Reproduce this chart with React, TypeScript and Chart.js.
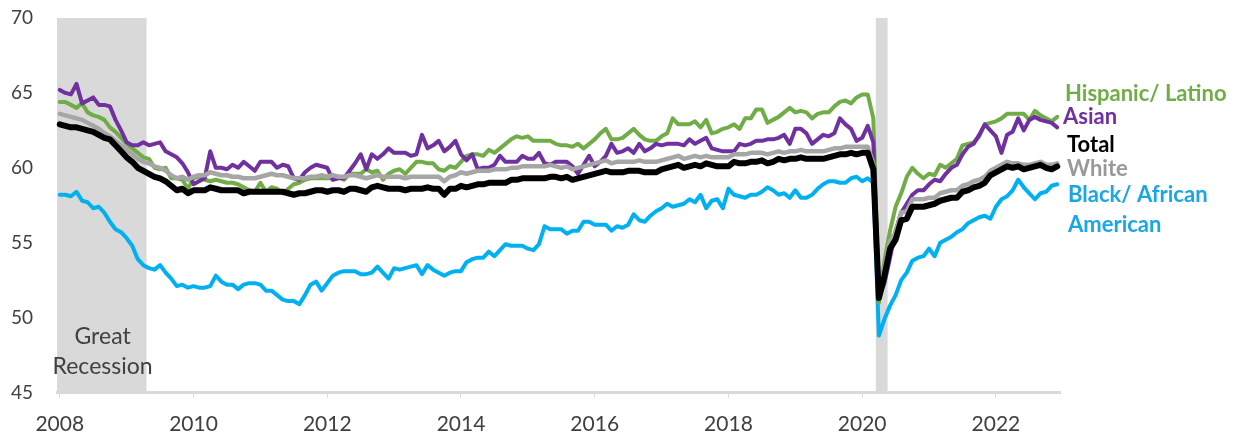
import React, { useEffect, useRef } from 'react';
import { Chart, registerables } from 'chart.js';

Chart.register(...registerables);

// ---------- categories ----------
const years = [2008, 2009, 2010, 2011, 2012, 2013, 2014, 2015, 2016, 2017, 2018, 2019, 2020, 2021, 2022];
const monthLabels: string[] = years.flatMap((y) =>
  Array.from({ length: 12 }, (_, m) => `${y}-${String(m + 1).padStart(2, '0')}`)
);
const xTickLabels = ['2008', '2010', '2012', '2014', '2016', '2018', '2020', '2022'];
const yTicks = { min: 45, max: 70, step: 5 };

// ---------- shaded periods (recessions) ----------
const shadeTop = 70;
const shadedPeriods: [string, string][] = [
  ['2008-01', '2009-04'],
  ['2020-04', '2020-05'],
];
const recessionLabel = ['Great', 'Recession'];

// ---------- series (employment-population ratio, %) ----------
const total = [
  62.9, 62.8, 62.7, 62.7, 62.6, 62.5, 62.4, 62.2, 62.0, 61.9, 61.5, 61.1,
  60.7, 60.4, 60.0, 59.8, 59.6, 59.4, 59.3, 59.1, 58.8, 58.5, 58.6, 58.3,
  58.5, 58.5, 58.5, 58.7, 58.6, 58.5, 58.5, 58.5, 58.5, 58.3, 58.4, 58.4,
  58.4, 58.4, 58.4, 58.4, 58.4, 58.3, 58.2, 58.3, 58.3, 58.4, 58.5, 58.5,
  58.4, 58.5, 58.5, 58.4, 58.6, 58.6, 58.5, 58.4, 58.7, 58.8, 58.7, 58.6,
  58.6, 58.6, 58.5, 58.6, 58.6, 58.6, 58.7, 58.6, 58.6, 58.2, 58.6, 58.6,
  58.8, 58.7, 58.8, 58.9, 58.9, 59.0, 59.0, 59.0, 59.0, 59.2, 59.2, 59.3,
  59.3, 59.3, 59.3, 59.3, 59.4, 59.4, 59.3, 59.4, 59.2, 59.3, 59.4, 59.5,
  59.6, 59.7, 59.8, 59.7, 59.7, 59.7, 59.8, 59.8, 59.8, 59.7, 59.7, 59.7,
  59.9, 60.0, 60.1, 60.2, 60.0, 60.1, 60.2, 60.1, 60.3, 60.2, 60.1, 60.1,
  60.1, 60.4, 60.3, 60.3, 60.4, 60.4, 60.5, 60.3, 60.4, 60.6, 60.5, 60.6,
  60.6, 60.7, 60.6, 60.6, 60.6, 60.6, 60.7, 60.8, 60.9, 60.9, 61.0, 60.9,
  61.0, 61.0, 59.9, 51.3, 52.8, 54.6, 55.2, 56.5, 56.6, 57.4, 57.4, 57.4,
  57.5, 57.6, 57.8, 57.9, 58.0, 58.0, 58.4, 58.5, 58.7, 58.8, 59.0, 59.5,
  59.7, 59.9, 60.1, 60.0, 60.1, 59.9, 60.0, 60.1, 60.2, 60.0, 59.9, 60.1,
];

const white = [
  63.6, 63.5, 63.4, 63.3, 63.2, 63.0, 62.8, 62.6, 62.3, 62.1, 61.8, 61.5,
  61.2, 60.9, 60.6, 60.4, 60.3, 60.1, 60.0, 59.8, 59.5, 59.3, 59.4, 59.2,
  59.4, 59.5, 59.5, 59.7, 59.6, 59.5, 59.5, 59.4, 59.4, 59.3, 59.3, 59.3,
  59.4, 59.5, 59.6, 59.5, 59.5, 59.4, 59.3, 59.3, 59.3, 59.4, 59.4, 59.5,
  59.4, 59.5, 59.4, 59.4, 59.5, 59.5, 59.4, 59.3, 59.4, 59.5, 59.4, 59.4,
  59.4, 59.4, 59.3, 59.4, 59.4, 59.4, 59.4, 59.4, 59.4, 59.1, 59.4, 59.5,
  59.7, 59.6, 59.7, 59.8, 59.8, 59.8, 59.9, 59.9, 59.9, 60.0, 60.0, 60.1,
  60.1, 60.1, 60.1, 60.1, 60.2, 60.1, 60.0, 60.1, 59.9, 60.0, 60.1, 60.2,
  60.3, 60.4, 60.5, 60.3, 60.4, 60.4, 60.4, 60.4, 60.5, 60.4, 60.4, 60.4,
  60.5, 60.6, 60.7, 60.8, 60.6, 60.7, 60.8, 60.7, 60.8, 60.7, 60.7, 60.7,
  60.7, 60.9, 60.9, 60.9, 61.0, 61.0, 61.0, 60.9, 61.0, 61.1, 61.0, 61.1,
  61.1, 61.2, 61.1, 61.1, 61.1, 61.1, 61.2, 61.3, 61.3, 61.4, 61.4, 61.4,
  61.4, 61.4, 60.3, 51.6, 53.2, 55.1, 55.7, 57.0, 57.1, 57.9, 57.9, 57.9,
  58.0, 58.0, 58.3, 58.4, 58.5, 58.5, 58.8, 58.9, 59.1, 59.2, 59.4, 59.8,
  60.0, 60.2, 60.4, 60.3, 60.3, 60.2, 60.2, 60.3, 60.4, 60.2, 60.2, 60.3,
];

const hispanic = [
  64.4, 64.4, 64.2, 64.0, 64.3, 63.7, 63.5, 63.4, 63.2, 62.7, 62.4, 62.0,
  61.6, 61.3, 61.0, 60.7, 60.6, 60.0, 59.9, 60.0, 59.3, 59.3, 59.2, 58.6,
  59.3, 59.4, 59.2, 59.1, 59.2, 59.1, 59.0, 59.0, 58.9, 58.7, 58.5, 58.4,
  59.0, 58.4, 58.7, 58.6, 58.3, 58.6, 58.9, 59.0, 59.2, 59.3, 59.3, 59.3,
  59.3, 59.3, 59.4, 59.2, 59.6, 59.6, 59.6, 59.9, 59.7, 59.8, 59.2, 59.6,
  59.8, 59.9, 59.6, 60.0, 60.4, 60.4, 60.3, 60.3, 59.9, 59.8, 60.1, 60.0,
  60.4, 60.8, 60.9, 60.9, 60.8, 61.2, 61.0, 61.3, 61.6, 61.9, 62.1, 62.0,
  62.1, 61.8, 61.8, 61.8, 61.8, 61.6, 61.5, 61.5, 61.4, 61.6, 61.3, 61.6,
  61.9, 62.3, 62.6, 61.9, 61.9, 62.0, 62.3, 62.6, 62.2, 61.9, 61.8, 61.8,
  62.1, 62.3, 63.3, 62.9, 62.9, 62.9, 63.1, 62.7, 63.2, 62.3, 62.4, 62.6,
  62.7, 62.9, 62.6, 63.3, 63.3, 63.9, 63.9, 63.0, 63.2, 63.4, 63.7, 64.0,
  63.7, 63.8, 63.7, 63.3, 63.6, 63.7, 63.7, 64.1, 64.4, 64.5, 64.3, 64.7,
  64.9, 64.9, 63.3, 51.0, 53.8, 55.8, 57.4, 58.3, 59.4, 60.0, 59.6, 59.3,
  59.6, 59.5, 60.2, 60.0, 60.3, 60.6, 61.5, 61.6, 61.7, 62.1, 62.9, 63.0,
  63.1, 63.3, 63.6, 63.6, 63.6, 63.6, 63.2, 63.8, 63.5, 63.3, 63.1, 63.4,
];

const asian = [
  65.2, 65.0, 64.9, 65.6, 64.3, 64.5, 64.7, 64.2, 64.2, 64.1, 63.2, 62.5,
  61.7, 61.5, 61.5, 61.7, 61.5, 61.6, 61.7, 61.1, 60.9, 60.7, 60.3, 59.7,
  58.9, 59.1, 59.3, 61.1, 60.0, 60.0, 59.9, 60.2, 60.0, 60.4, 60.1, 59.8,
  60.4, 60.4, 60.4, 60.0, 60.2, 60.1, 59.3, 59.2, 59.7, 60.0, 60.2, 60.1,
  60.0, 59.2, 59.3, 59.3, 59.8, 60.3, 60.9, 59.9, 60.9, 60.6, 60.9, 61.3,
  61.0, 61.0, 61.0, 60.8, 60.9, 62.2, 61.3, 61.5, 61.8, 61.1, 61.4, 61.8,
  60.9, 60.5, 60.9, 59.9, 60.0, 60.0, 60.2, 60.8, 60.4, 60.4, 60.4, 60.8,
  60.6, 60.6, 61.0, 60.3, 60.2, 60.4, 60.4, 60.4, 60.1, 59.6, 60.2, 60.8,
  60.1, 60.4, 60.8, 61.6, 61.0, 61.1, 61.3, 61.0, 61.6, 61.1, 61.3, 61.6,
  61.5, 61.6, 61.6, 61.6, 61.5, 61.9, 61.6, 61.8, 62.0, 61.3, 61.2, 61.1,
  61.1, 61.1, 61.6, 61.5, 61.6, 61.8, 61.8, 61.9, 61.9, 62.0, 62.2, 61.6,
  62.6, 62.6, 62.3, 61.6, 61.9, 62.2, 62.1, 62.3, 63.3, 62.9, 62.6, 61.8,
  62.0, 62.8, 61.7, 51.3, 52.3, 54.0, 55.8, 57.0, 57.6, 58.2, 58.5, 58.5,
  58.9, 59.2, 59.1, 59.6, 60.0, 60.2, 60.9, 61.4, 61.6, 62.2, 62.9, 62.5,
  62.1, 61.0, 62.2, 62.4, 63.3, 62.5, 63.2, 63.4, 63.2, 63.1, 63.0, 62.7,
];

const blackAfricanAmerican = [
  58.2, 58.2, 58.1, 58.4, 57.8, 57.7, 57.3, 57.4, 57.0, 56.4, 55.9, 55.7,
  55.3, 54.8, 53.9, 53.5, 53.3, 53.2, 53.5, 53.0, 52.6, 52.1, 52.2, 52.0,
  52.1, 52.0, 52.0, 52.1, 52.8, 52.4, 52.2, 52.2, 51.9, 52.2, 52.3, 52.3,
  52.2, 51.8, 51.8, 51.5, 51.2, 51.1, 51.1, 50.9, 51.5, 52.2, 52.4, 51.8,
  52.3, 52.8, 53.0, 53.1, 53.1, 53.1, 52.9, 52.9, 53.0, 53.4, 53.0, 52.6,
  53.3, 53.2, 53.3, 53.4, 53.5, 52.9, 53.5, 53.2, 53.0, 52.8, 53.0, 53.1,
  53.1, 53.7, 53.9, 54.0, 54.0, 54.4, 54.1, 54.5, 54.9, 54.8, 54.8, 54.8,
  54.6, 54.5, 54.9, 56.1, 55.9, 55.9, 55.9, 55.6, 55.8, 55.8, 56.4, 56.4,
  56.2, 56.2, 56.2, 55.8, 56.1, 56.0, 56.2, 56.9, 56.5, 56.4, 56.8, 57.1,
  57.3, 57.6, 57.4, 57.5, 57.6, 57.9, 57.7, 58.2, 57.3, 57.8, 57.9, 57.3,
  58.6, 58.2, 58.1, 58.0, 58.2, 58.2, 58.4, 58.7, 58.5, 58.2, 58.3, 58.0,
  58.5, 58.0, 58.0, 58.2, 58.6, 58.9, 59.1, 59.1, 59.0, 59.0, 59.3, 59.4,
  59.1, 59.3, 59.0, 48.8, 49.9, 50.8, 51.5, 52.5, 53.0, 53.8, 54.0, 54.1,
  54.6, 54.1, 55.0, 55.2, 55.4, 55.7, 55.9, 56.3, 56.5, 56.7, 56.8, 56.6,
  57.4, 57.9, 58.1, 58.5, 59.2, 58.7, 58.3, 57.9, 58.3, 58.4, 58.8, 58.9,
];

// ---------- styles ----------
const COLORS = {
  total: '#000000',
  white: '#a6a6a6',
  asian: '#7030a0',
  hispanic: '#70ad47',
  black: '#00b0f0',
  shade: '#d9d9d9',
  text: '#404040',
};

const seriesLabels = [
  { text: 'Hispanic/ Latino', color: COLORS.hispanic, x: 1065, y: 101 },
  { text: 'Asian', color: COLORS.asian, x: 1063, y: 124 },
  { text: 'Total', color: COLORS.total, x: 1067, y: 152 },
  { text: 'White', color: '#999999', x: 1067, y: 176 },
  { text: 'Black/ African', color: '#19a6e6', x: 1068, y: 202 },
  { text: 'American', color: '#19a6e6', x: 1068, y: 232 },
];

const inPeriod = (m: string) => shadedPeriods.some(([a, b]) => m >= a && m <= b);
const shadeData = monthLabels.map((m) => (inPeriod(m) ? shadeTop : null));

const annotationPlugin = {
  id: 'annotations',
  afterDatasetsDraw(chart: any) {
    const { ctx, scales } = chart;
    const xs = scales.x;
    ctx.save();
    const [a, b] = shadedPeriods[0];
    const ia = monthLabels.indexOf(a);
    const ib = monthLabels.indexOf(b);
    const half = (xs.getPixelForValue(1) - xs.getPixelForValue(0)) / 2;
    const cx = (xs.getPixelForValue(ia) - half + xs.getPixelForValue(ib) + half) / 2;
    ctx.fillStyle = COLORS.text;
    ctx.font = '23px Lato';
    ctx.textAlign = 'center';
    ctx.textBaseline = 'alphabetic';
    ctx.fillText(recessionLabel[0], cx + 1, 344);
    ctx.fillText(recessionLabel[1], cx + 1, 374);
    ctx.textAlign = 'left';
    ctx.font = 'bold 22px Lato';
    for (const l of seriesLabels) {
      ctx.fillStyle = l.color;
      ctx.fillText(l.text, l.x, l.y);
    }
    ctx.restore();
  },
};

const lineDs = (label: string, data: number[], color: string, width: number, order: number) => ({
  type: 'line' as const,
  label,
  data,
  borderColor: color,
  backgroundColor: color,
  borderWidth: width,
  pointRadius: 0,
  tension: 0,
  fill: false,
  borderJoinStyle: 'round' as const,
  borderCapStyle: 'round' as const,
  order,
});

export default function App() {
  const ref = useRef<HTMLCanvasElement | null>(null);
  useEffect(() => {
    if (!ref.current) return;
    const chart = new Chart(ref.current, {
      type: 'line',
      data: {
        labels: monthLabels,
        datasets: [
          {
            type: 'bar',
            label: 'shade',
            data: shadeData as any,
            backgroundColor: COLORS.shade,
            borderWidth: 0,
            barPercentage: 1,
            categoryPercentage: 1,
            order: 10,
          } as any,
          lineDs('Total', total, COLORS.total, 6, 1),
          lineDs('White', white, COLORS.white, 4.5, 2),
          lineDs('Asian', asian, COLORS.asian, 4, 3),
          lineDs('Hispanic/ Latino', hispanic, COLORS.hispanic, 4, 4),
          lineDs('Black/ African American', blackAfricanAmerican, COLORS.black, 4, 5),
        ],
      },
      options: {
        animation: false,
        responsive: false,
        events: [],
        layout: { padding: { left: 0, right: 182, top: 18, bottom: 0 } },
        plugins: { legend: { display: false }, tooltip: { enabled: false } },
        scales: {
          x: {
            type: 'category',
            offset: true,
            grid: {
              display: true,
              drawOnChartArea: false,
              drawTicks: true,
              tickLength: 5,
              color: COLORS.shade,
              lineWidth: 1,
              offset: false,
            },
            border: { display: true, color: COLORS.shade, width: 3 },
            ticks: {
              autoSkip: false,
              maxRotation: 0,
              minRotation: 0,
              padding: 14,
              color: COLORS.text,
              font: { family: 'Lato', size: 21 },
              callback: (_v: any, i: number) => (i % 24 === 0 ? xTickLabels[i / 24] : null),
            },
            afterFit: (s: any) => {
              s.height = 43.5;
              s.paddingLeft = 0;
              s.paddingRight = 0;
            },
          },
          y: {
            min: yTicks.min,
            max: yTicks.max,
            ticks: {
              stepSize: yTicks.step,
              padding: 24,
              color: COLORS.text,
              font: { family: 'Lato', size: 19 },
            },
            grid: { display: false, drawTicks: false },
            border: { display: false },
            afterFit: (s: any) => {
              s.width = 57;
              s.paddingTop = 0;
              s.paddingBottom = 0;
            },
          },
        },
      } as any,
      plugins: [annotationPlugin],
    });
    return () => chart.destroy();
  }, []);
  return (
    <div style={{ position: 'fixed', left: 0, top: 0, width: 1242, height: 436, background: '#fff' }}>
      <canvas ref={ref} width={1242} height={436} style={{ width: 1242, height: 436, display: 'block' }} />
    </div>
  );
}
